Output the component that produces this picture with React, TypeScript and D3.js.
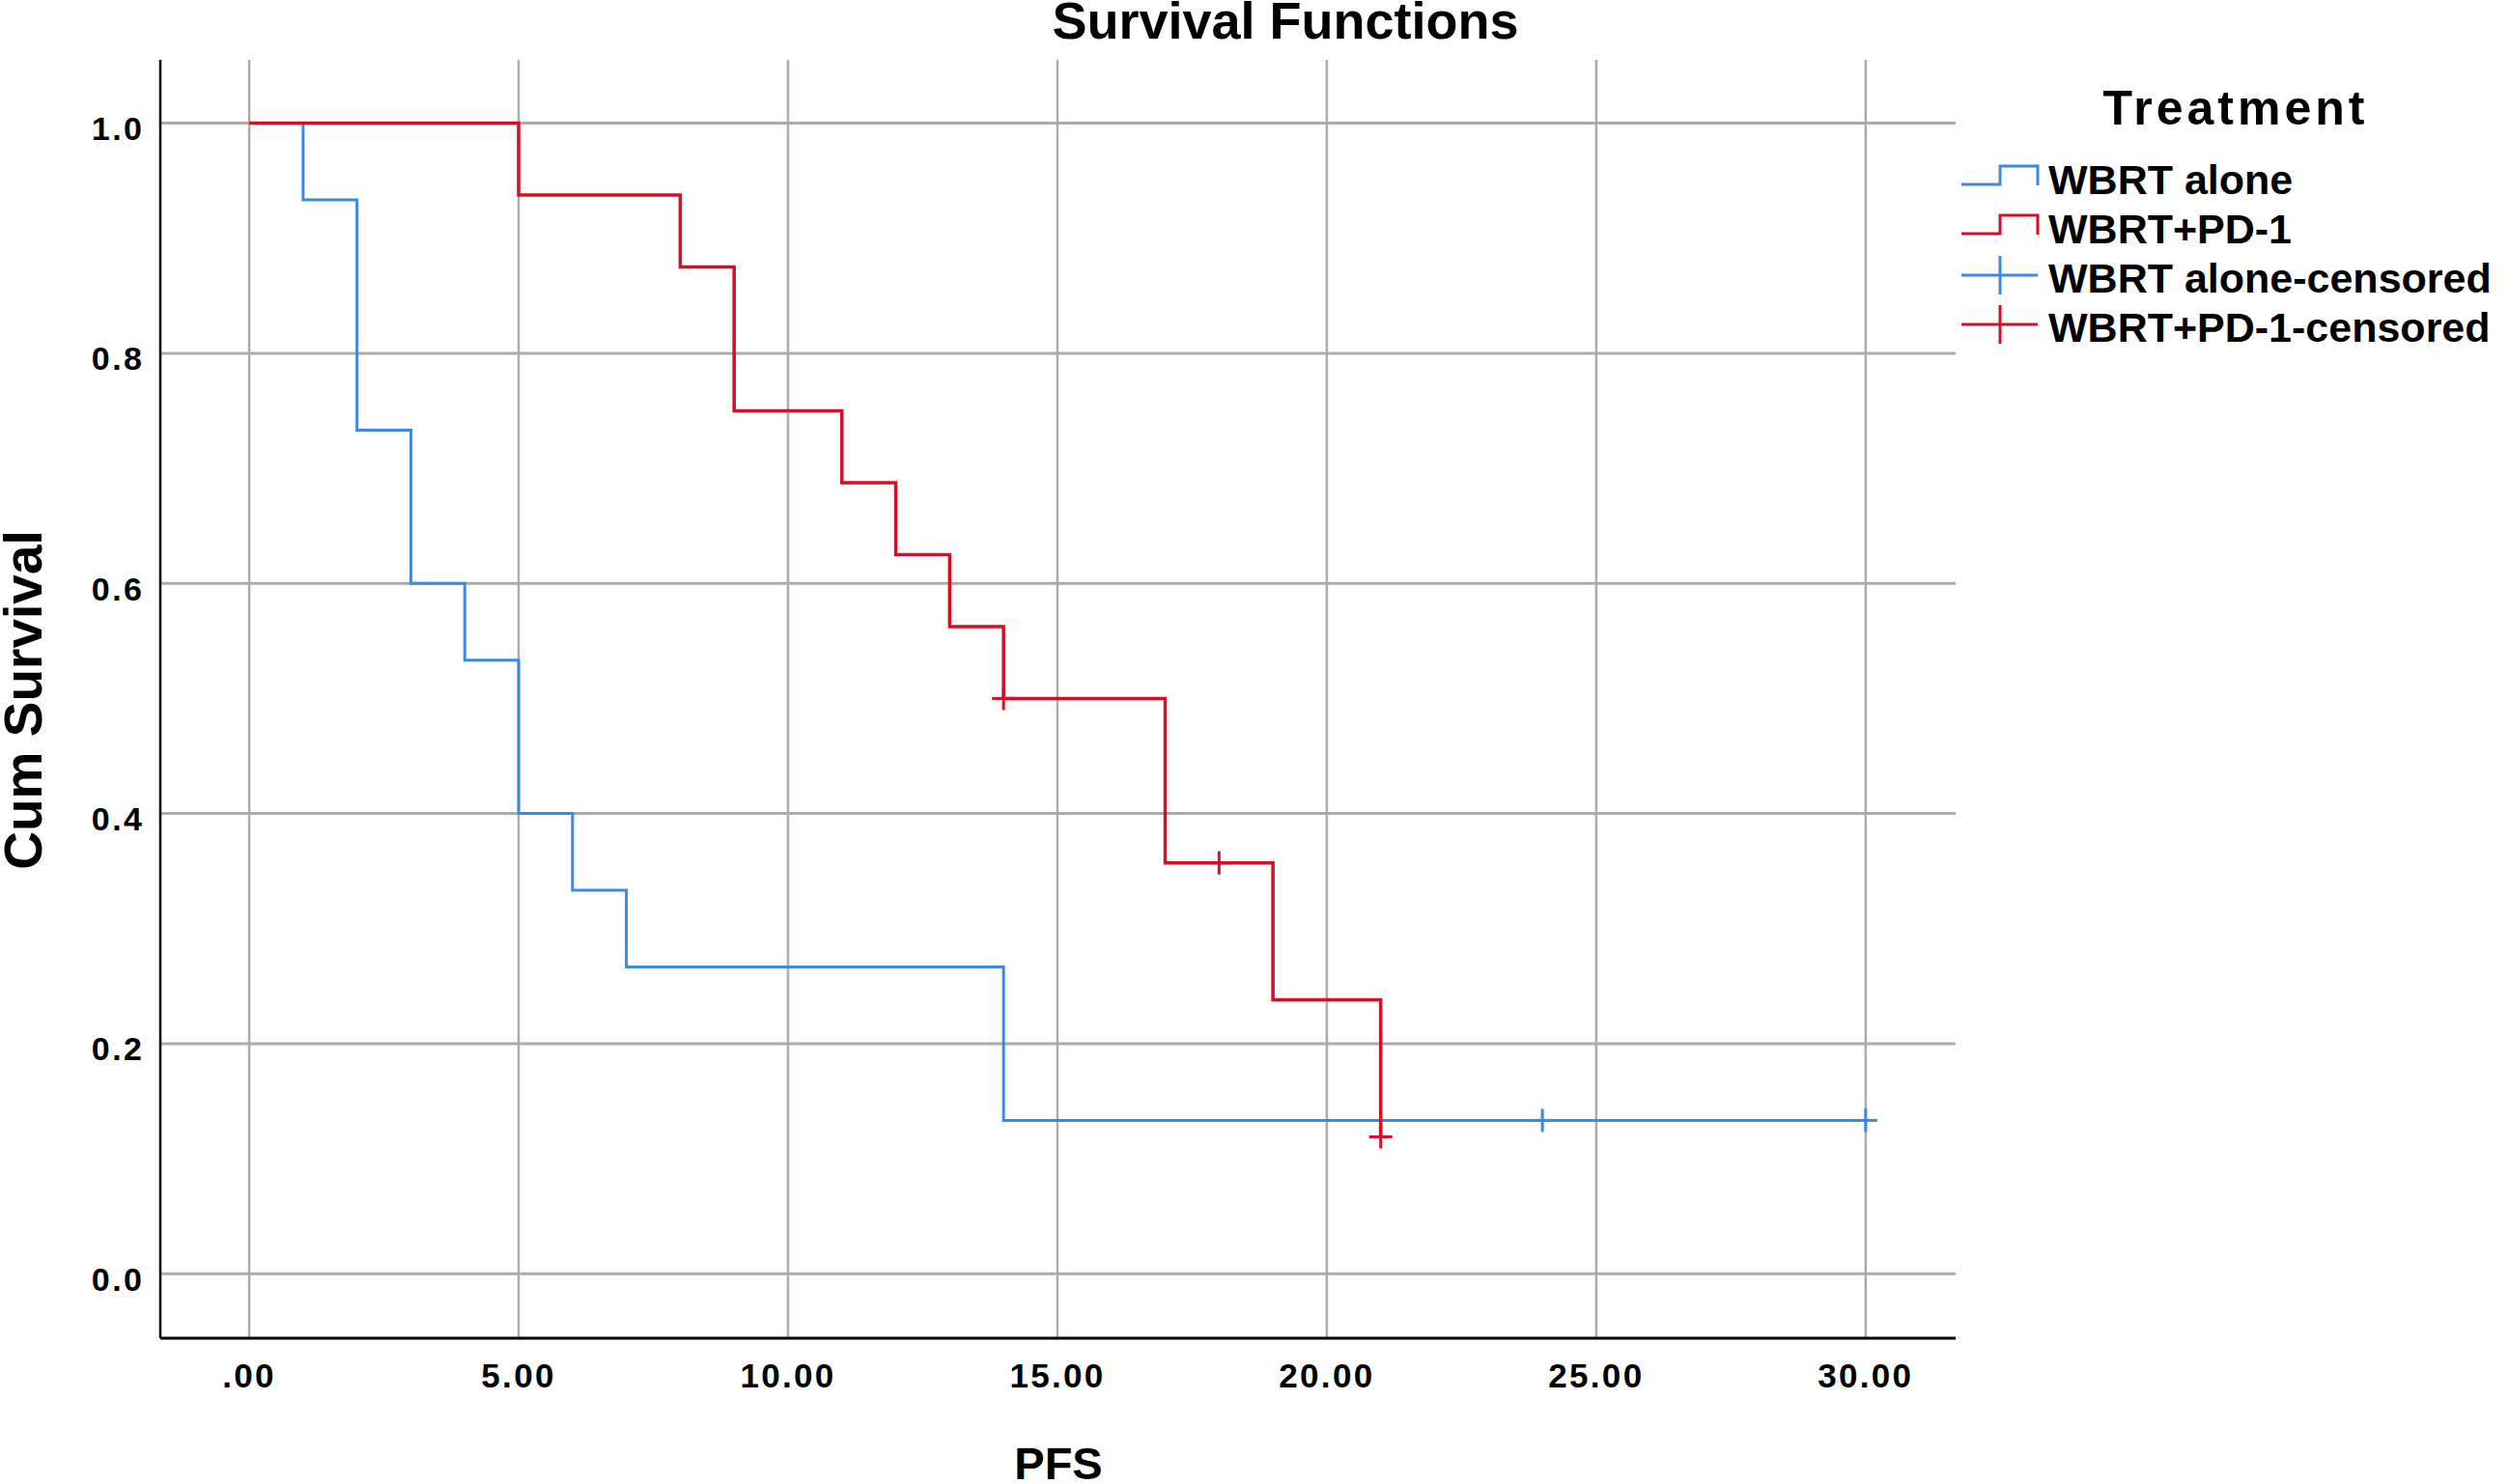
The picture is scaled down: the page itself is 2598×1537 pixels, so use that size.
import * as d3 from "d3";

const W = 2598;
const H = 1537;

// WBRT alone (n=15)
const blueTimes = [0, 1, 2, 3, 4, 5, 6, 7, 14, 30];
const blueSurv = [1, 0.9333, 0.7333, 0.6, 0.5333, 0.4, 0.3333, 0.2667, 0.1333, 0.1333];
const blueCensorTimes = [24, 30];
const blueCensorSurv = [0.1333, 0.1333];

// WBRT+PD-1 (n=16)
const redTimes = [0, 5, 8, 9, 11, 12, 13, 14, 17, 19, 21];
const redSurv = [1, 0.9375, 0.875, 0.75, 0.6875, 0.625, 0.5625, 0.5, 0.3571, 0.2381, 0.119];
const redCensorTimes = [14, 18, 21];
const redCensorSurv = [0.5, 0.3571, 0.119];

const xTicks = [0, 5, 10, 15, 20, 25, 30];
const xTickLabels = [".00", "5.00", "10.00", "15.00", "20.00", "25.00", "30.00"];
const yTicks = [0, 0.2, 0.4, 0.6, 0.8, 1.0];
const yTickLabels = ["0.0", "0.2", "0.4", "0.6", "0.8", "1.0"];

const legendLabels = ["WBRT alone", "WBRT+PD-1", "WBRT alone-censored", "WBRT+PD-1-censored"];

const BLUE = "#3d89e3";
const RED = "#d3102a";
const GRID = "#ababab";
const FONT = "'Liberation Sans', Arial, Helvetica, sans-serif";

const plot = { left: 166, right: 2025, top: 62, bottom: 1386 };

const x = d3.scaleLinear().domain([-1.65, 31.67]).range([plot.left, plot.right]);
const y = d3.scaleLinear().domain([-0.056, 1.055]).range([plot.bottom, plot.top]);

const step = d3
  .line<[number, number]>()
  .x((d) => x(d[0]))
  .y((d) => y(d[1]))
  .curve(d3.curveStepAfter);

const Censor = ({ t, s, color }: { t: number; s: number; color: string }) => {
  const cx = x(t);
  const cy = y(s);
  return (
    <g stroke={color} strokeWidth={3}>
      <line x1={cx - 12} x2={cx + 12} y1={cy} y2={cy} />
      <line x1={cx} x2={cx} y1={cy - 12} y2={cy + 12} />
    </g>
  );
};

const App = () => {
  const bluePts = blueTimes.map((t, i) => [t, blueSurv[i]] as [number, number]);
  const redPts = redTimes.map((t, i) => [t, redSurv[i]] as [number, number]);

  // legend geometry
  const lx0 = 2031;
  const lx1 = 2110;
  const lmid = 2071;
  const base0 = 201;
  const rowH = 51;

  return (
    <svg
      width={W}
      height={H}
      style={{ position: "absolute", left: 0, top: 0, background: "#fff" }}
      fontFamily={FONT}
    >
      {/* title */}
      <text x={1331} y={40} textAnchor="middle" fontSize={54} fontWeight="bold">
        Survival Functions
      </text>

      {/* grid */}
      {xTicks.map((t) => (
        <line key={"gx" + t} x1={x(t)} x2={x(t)} y1={plot.top} y2={plot.bottom} stroke={GRID} strokeWidth={2.5} />
      ))}
      {yTicks.map((t) => (
        <line key={"gy" + t} x1={plot.left} x2={plot.right} y1={y(t)} y2={y(t)} stroke={GRID} strokeWidth={3} />
      ))}

      {/* axes */}
      <line x1={plot.left} x2={plot.left} y1={plot.top} y2={plot.bottom} stroke="#000" strokeWidth={2.5} />
      <line x1={plot.left} x2={plot.right} y1={plot.bottom} y2={plot.bottom} stroke="#000" strokeWidth={3} />

      {/* tick labels */}
      {yTicks.map((t, i) => (
        <text key={"yl" + t} x={149.5} y={y(t) + 17.5} textAnchor="end" fontSize={34} fontWeight="bold" letterSpacing={2.5}>
          {yTickLabels[i]}
        </text>
      ))}
      {xTicks.map((t, i) => (
        <text key={"xl" + t} x={x(t)} y={1437} textAnchor="middle" fontSize={35} fontWeight="bold" letterSpacing={2.3}>
          {xTickLabels[i]}
        </text>
      ))}

      {/* axis titles */}
      <text x={1096} y={1532} textAnchor="middle" fontSize={47} fontWeight="bold">
        PFS
      </text>
      <text
        transform={`translate(43, 725) rotate(-90)`}
        textAnchor="middle"
        fontSize={55}
        fontWeight="bold"
      >
        Cum Survival
      </text>

      {/* survival curves */}
      <path d={step(bluePts) || ""} fill="none" stroke={BLUE} strokeWidth={3} />
      <path d={step(redPts) || ""} fill="none" stroke={RED} strokeWidth={3.5} />

      {blueCensorTimes.map((t, i) => (
        <Censor key={"bc" + t} t={t} s={blueCensorSurv[i]} color={BLUE} />
      ))}
      {redCensorTimes.map((t, i) => (
        <Censor key={"rc" + t} t={t} s={redCensorSurv[i]} color={RED} />
      ))}

      {/* legend */}
      <text x={2315} y={129} textAnchor="middle" fontSize={50} fontWeight="bold" letterSpacing={4}>
        Treatment
      </text>
      {legendLabels.map((lab, i) => {
        const b = base0 + i * rowH;
        const color = i % 2 === 0 ? BLUE : RED;
        const icon =
          i < 2 ? (
            <path
              d={`M${lx0},${b - 10}H${lmid}V${b - 29}H${lx1}V${b - 9}`}
              fill="none"
              stroke={color}
              strokeWidth={3}
            />
          ) : (
            <g stroke={color} strokeWidth={3}>
              <line x1={lx0} x2={lx1} y1={b - 18} y2={b - 18} />
              <line x1={lmid} x2={lmid} y1={b - 38} y2={b + 2} />
            </g>
          );
        return (
          <g key={lab}>
            {icon}
            <text x={2121} y={b} fontSize={43} fontWeight="bold">
              {lab}
            </text>
          </g>
        );
      })}
    </svg>
  );
};

export default App;
